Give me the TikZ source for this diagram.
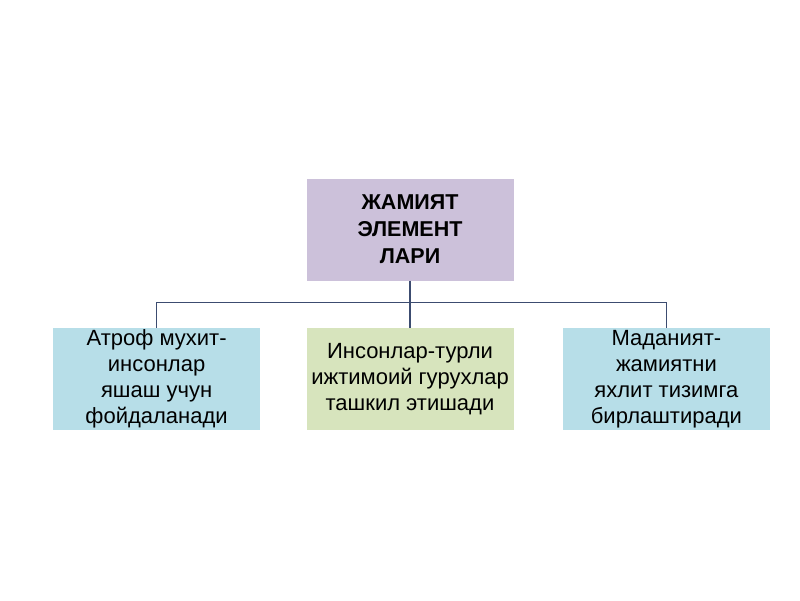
\documentclass[tikz,border=0pt]{standalone}
\usepackage{fontspec}
\setmainfont{Liberation Sans}
\usetikzlibrary{
        positioning,
        shapes
    }
\definecolor{toplila}{HTML}{CCC1DA}
\definecolor{sideblue}{HTML}{B7DEE8}
\definecolor{midgreen}{HTML}{D7E4BD}
\definecolor{linknavy}{HTML}{3C4C70}
\tikzset{box/.style={rectangle,minimum width=207pt,minimum height=102pt,inner sep=1pt,align=center,
        font=\fontsize{22}{26}\selectfont}}
\tikzset{link/.style={draw=linknavy,line width=1.4pt}}

\begin{document}
\begin{tikzpicture}[x=1pt,y=-1pt,node distance=47pt]
                \useasboundingbox (0,0) rectangle (800,600);
                \node[box,fill=toplila,font=\bfseries\fontsize{21.5}{27}\selectfont] (top) at (410,229.5) {ЖАМИЯТ\\ЭЛЕМЕНТ\\ЛАРИ};
                \node[box,fill=midgreen] (people) [below=47pt of top] {Инсонлар-турли\\ижтимоий гурухлар\\ташкил этишади};
                \node[box,fill=sideblue] (nature) [left=46pt of people] {Атроф мухит-\\инсонлар\\яшаш учун\\фойдаланади};
                \node[box,fill=sideblue] (culture) [right=49pt of people] {Маданият-\\жамиятни\\яхлит тизимга\\бирлаштиради};
                \coordinate (bus) at ([yshift=-22pt]top.south);
                \draw[link] (top.south) -- (bus);
                \draw[link] (bus) -| (nature.north);
                \draw[link] (bus) -| (culture.north);
                \draw[link] (bus) -- (people.north);
            \end{tikzpicture}
\end{document}
